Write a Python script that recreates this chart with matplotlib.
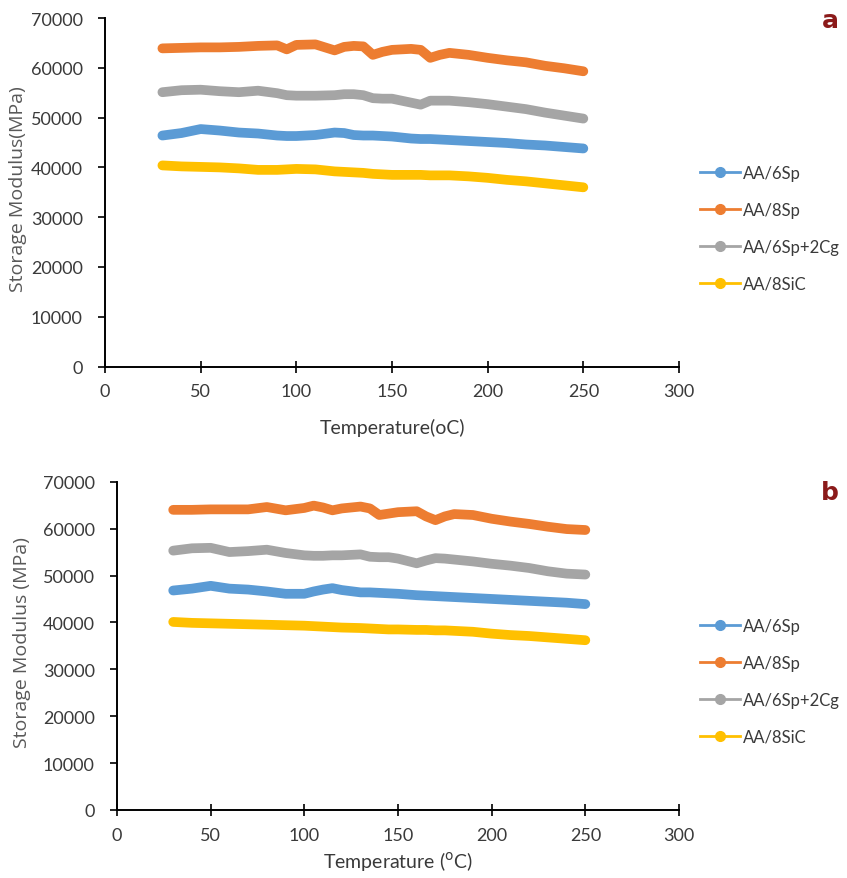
import matplotlib
matplotlib.use("Agg")
import matplotlib.pyplot as plt
from matplotlib.lines import Line2D

# temperature sweep (°C) and storage modulus (MPa) for each composite
temp_a = [30, 40, 50, 60, 70, 80, 90, 95, 100, 110, 120, 125, 130, 135, 140,
          145, 150, 160, 165, 170, 175, 180, 190, 200, 210, 220, 230, 240, 250]
sp6_a = [46400, 46900, 47700, 47400, 47000, 46800, 46400, 46300, 46300, 46500,
         47000, 46900, 46500, 46400, 46400, 46300, 46200, 45800, 45700, 45700,
         45600, 45500, 45300, 45100, 44900, 44600, 44400, 44100, 43800]
sp8_a = [63900, 64000, 64100, 64100, 64200, 64400, 64500, 63700, 64600, 64700,
         63500, 64200, 64400, 64300, 62600, 63200, 63600, 63800, 63600, 62000,
         62600, 63000, 62600, 62000, 61500, 61100, 60400, 59900, 59300]
sp6cg_a = [55100, 55500, 55600, 55300, 55100, 55400, 54900, 54500, 54400, 54400,
           54500, 54700, 54700, 54500, 53900, 53800, 53800, 53000, 52600, 53400,
           53400, 53400, 53100, 52700, 52200, 51700, 51000, 50400, 49800]
sic8_a = [40400, 40200, 40100, 40000, 39800, 39500, 39500, 39600, 39700, 39600,
          39200, 39100, 39000, 38900, 38700, 38600, 38500, 38500, 38500, 38400,
          38400, 38400, 38200, 37900, 37500, 37200, 36800, 36400, 36000]

temp_b = [30, 40, 50, 60, 70, 80, 90, 100, 105, 110, 115, 120, 130, 135, 140,
          145, 150, 160, 165, 170, 175, 180, 190, 200, 210, 220, 230, 240, 250]
sp6_b = [46800, 47200, 47800, 47200, 47000, 46600, 46100, 46100, 46600, 47000,
         47300, 46900, 46400, 46400, 46300, 46200, 46100, 45800, 45700, 45600,
         45500, 45400, 45200, 45000, 44800, 44600, 44400, 44200, 43900]
sp8_b = [64000, 64000, 64100, 64100, 64100, 64600, 63900, 64400, 64900, 64500,
         63900, 64300, 64700, 64300, 62900, 63200, 63500, 63700, 62600, 61800,
         62600, 63100, 62900, 62100, 61500, 61000, 60400, 59900, 59700]
sp6cg_b = [55300, 55800, 55900, 55000, 55200, 55500, 54800, 54300, 54200, 54200,
           54300, 54300, 54500, 54000, 53900, 53900, 53600, 52600, 53200, 53700,
           53600, 53400, 53000, 52500, 52100, 51600, 50900, 50400, 50200]
sic8_b = [40100, 39900, 39800, 39700, 39600, 39500, 39400, 39300, 39200, 39100,
          39000, 38900, 38800, 38700, 38600, 38500, 38500, 38400, 38400, 38300,
          38300, 38200, 38000, 37600, 37300, 37100, 36800, 36500, 36200]

labels = ["AA/6Sp", "AA/8Sp", "AA/6Sp+2Cg", "AA/8SiC"]
colors = ["#5B9BD5", "#ED7D31", "#A5A5A5", "#FFC000"]
x_ticks = [0, 50, 100, 150, 200, 250, 300]
y_ticks = [0, 10000, 20000, 30000, 40000, 50000, 60000, 70000]

W, H = 847, 879
fig = plt.figure(figsize=(W / 100, H / 100), dpi=100)


def px_rect(left, right, top, bottom):
    return [left / W, 1 - bottom / H, (right - left) / W, (bottom - top) / H]


def draw_panel(rect, temps, series, xlabel, ylabel, tag, tag_y, leg_top,
               xlabel_y, ylabel_x):
    ax = fig.add_axes(rect)
    for vals, c in zip(series, colors):
        ax.plot(temps, vals, color=c, lw=7, solid_capstyle="round",
                solid_joinstyle="round")
    ax.set_xlim(0, 300)
    ax.set_ylim(0, 70000)
    ax.set_xticks(x_ticks)
    ax.set_yticks(y_ticks)
    ax.spines[["top", "right"]].set_visible(False)
    for s in ("left", "bottom"):
        ax.spines[s].set_linewidth(1.4)
        ax.spines[s].set_color("black")
    ax.tick_params(axis="x", direction="inout", length=8, width=1.2, pad=8)
    ax.tick_params(axis="y", direction="out", length=5, width=1.2, pad=11)
    for lab in ax.get_xticklabels() + ax.get_yticklabels():
        lab.set_fontfamily("Lato")
        lab.set_fontsize(13)
        lab.set_color("#3a3a3a")

    # axis titles placed in figure pixels
    fig.text(rect[0] + rect[2] / 2, 1 - xlabel_y / H, xlabel, ha="center",
             va="center", fontfamily="Lato", fontsize=14, color="#3a3a3a")
    fig.text(ylabel_x / W, rect[1] + rect[3] / 2 + 0.005, ylabel,
             rotation=90, ha="center", va="center", fontfamily="Open Sans",
             fontsize=14, color="#595959")

    handles = [Line2D([0], [0], color=c, lw=2, marker="o", markersize=7)
               for c in colors]
    fig.legend(handles, labels, loc="upper left",
               bbox_to_anchor=(700 / W, 1 - leg_top / H), frameon=False,
               borderpad=0, borderaxespad=0, handlelength=2.4,
               handletextpad=0.2, labelspacing=1.25,
               prop={"family": "Lato", "size": 12}, labelcolor="#3a3a3a")
    fig.text(830 / W, 1 - tag_y / H, tag, ha="center", va="center",
             fontsize=18, fontweight="bold", color="#8B1A1A",
             fontfamily="DejaVu Sans")
    return ax


draw_panel(px_rect(105, 679, 19, 367.6), temp_a,
           [sp6_a, sp8_a, sp6cg_a, sic8_a],
           "Temperature(oC)", "Storage Modulus(MPa)", "a", 21, 166,
           428, 18)
draw_panel(px_rect(117, 679, 482.7, 811), temp_b,
           [sp6_b, sp8_b, sp6cg_b, sic8_b],
           "Temperature ($^{\\mathrm{o}}$C)", "Storage Modulus (MPa)", "b",
           493, 619, 862, 22)

fig.savefig("out.png", dpi=100)
